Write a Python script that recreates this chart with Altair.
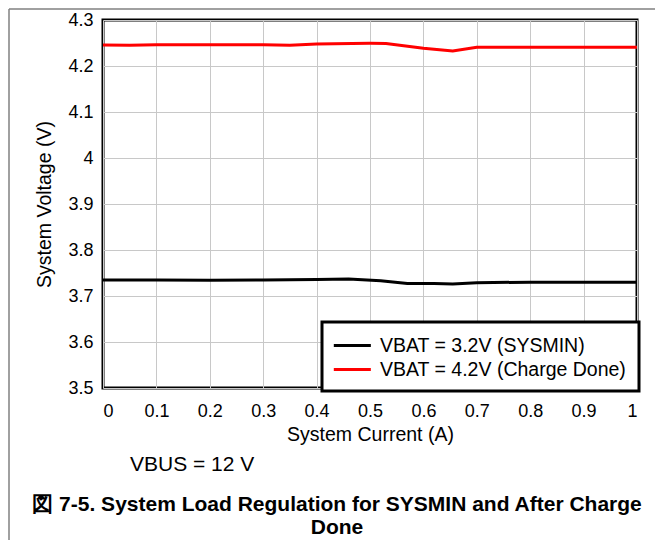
import altair as alt
import pandas as pd

# Series data
cur_sysmin = [0, 0.1, 0.2, 0.3, 0.4, 0.46, 0.52, 0.57, 0.62, 0.655, 0.7, 0.8, 0.9, 1.0]
v_sysmin = [3.735, 3.735, 3.7345, 3.735, 3.736, 3.737, 3.733, 3.727, 3.727, 3.726, 3.729, 3.730, 3.730, 3.730]

cur_done = [0, 0.05, 0.1, 0.2, 0.3, 0.35, 0.4, 0.5, 0.53, 0.6, 0.655, 0.7, 0.8, 0.9, 1.0]
v_done = [4.2457, 4.2449, 4.2464, 4.2464, 4.2464, 4.2449, 4.2478, 4.2493, 4.2490, 4.2384, 4.2326, 4.2406, 4.2406, 4.2406, 4.2406]

series_names = ["VBAT = 3.2V (SYSMIN)", "VBAT = 4.2V (Charge Done)"]
series_colors = ["#000000", "#ff0000"]

x_ticks = [0, 0.1, 0.2, 0.3, 0.4, 0.5, 0.6, 0.7, 0.8, 0.9, 1.0]
y_ticks = [3.5, 3.6, 3.7, 3.8, 3.9, 4.0, 4.1, 4.2, 4.3]

note_text = ["VBUS = 12 V"]
caption_lines = ["図 7-5. System Load Regulation for SYSMIN and After Charge", "Done"]

FONT = "Liberation Sans"

df = pd.concat([
    pd.DataFrame({"current": cur_sysmin, "voltage": v_sysmin, "series": series_names[0]}),
    pd.DataFrame({"current": cur_done, "voltage": v_done, "series": series_names[1]}),
])

lines = alt.Chart(df).mark_line(strokeWidth=3).encode(
    x=alt.X("current:Q", title="System Current (A)",
            scale=alt.Scale(domain=[0, 1], nice=False),
            axis=alt.Axis(values=x_ticks, format="~g", labelPadding=14, titlePadding=5)),
    y=alt.Y("voltage:Q", title="System Voltage (V)",
            scale=alt.Scale(domain=[3.5, 4.3], nice=False, zero=False),
            axis=alt.Axis(values=y_ticks, format="~g", labelPadding=10, titlePadding=13)),
    color=alt.Color("series:N", sort=series_names,
                    scale=alt.Scale(domain=series_names, range=series_colors),
                    legend=alt.Legend(
                        title=None, orient="none", legendX=219, legendY=302,
                        symbolType="M-1.2,0H2.6", symbolSize=380, symbolStrokeWidth=3,
                        labelFontSize=19.5, labelFont=FONT, labelColor="black",
                        labelOffset=23, labelLimit=0, padding=12,
                        strokeColor="black", fillColor="white",
                    )),
)

note = alt.Chart(pd.DataFrame({"t": note_text})).mark_text(
    font=FONT, fontSize=21, align="left", baseline="middle", color="black"
).encode(x=alt.value(27), y=alt.value(445), text="t:N")

cap1 = alt.Chart(pd.DataFrame({"t": caption_lines[:1]})).mark_text(
    font=FONT, fontSize=21, fontWeight="bold", align="center", baseline="middle", color="black"
).encode(x=alt.value(234), y=alt.value(485), text="t:N")

cap2 = alt.Chart(pd.DataFrame({"t": caption_lines[1:]})).mark_text(
    font=FONT, fontSize=21, fontWeight="bold", align="center", baseline="middle", color="black"
).encode(x=alt.value(234), y=alt.value(508), text="t:N")

border_df = pd.DataFrame({"k": [0]})
left_border = alt.Chart(border_df).mark_rule(color="#808080", strokeWidth=1.5).encode(
    x=alt.value(-94), y=alt.value(-11), y2=alt.value(540))
top_border = alt.Chart(border_df).mark_rule(color="#808080", strokeWidth=1.5).encode(
    x=alt.value(-94), x2=alt.value(560), y=alt.value(-11))

chart = alt.layer(lines, note, cap1, cap2, left_border, top_border).properties(
    width=534, height=368,
    autosize=alt.AutoSizeParams(type="none"),
    padding={"left": 95, "top": 12, "right": 18, "bottom": 152},
).configure_view(
    stroke="black", strokeWidth=3
).configure_axis(
    grid=True, gridColor="#c8c8c8", gridWidth=1, ticks=False, domain=False,
    labelFont=FONT, labelFontSize=18, labelColor="black",
    titleFont=FONT, titleFontSize=19.5, titleFontWeight="normal", titleColor="black",
).configure_legend(
    strokeWidth=3, rowPadding=3
)

chart.save("out.html", embed_options={"renderer": "svg", "actions": False})
